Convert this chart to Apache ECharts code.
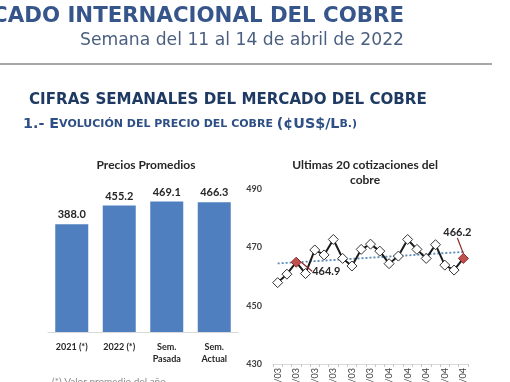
<!DOCTYPE html>
<html><head><meta charset="utf-8">
<script src="https://cdn.jsdelivr.net/npm/echarts@6/dist/echarts.min.js"></script>
<style>html,body{margin:0;padding:0;background:#fff}#c{width:510px;height:382px}</style>
</head><body><div id="c"></div>
<script>
var barCategories = ['2021 (*)', '2022 (*)', 'Sem.\nPasada', 'Sem.\nActual'];
var barValues = [388.0, 455.2, 469.1, 466.3];
var lineDates = ['17/03','18/03','21/03','22/03','23/03','24/03','25/03','28/03','29/03','30/03','31/03','01/04','04/04','05/04','06/04','07/04','08/04','11/04','12/04','13/04','14/04'];
var lineValues = [457.9, 460.8, 464.9, 461.0, 469.1, 467.4, 472.7, 466.2, 463.6, 469.3, 471.1, 468.7, 464.4, 467.0, 472.7, 469.3, 466.2, 470.9, 463.9, 462.2, 466.2];
var labelledIdx = [2, 20];
var yTicks = [430, 450, 470, 490];

// linear trend from data
var n = lineValues.length, sx=0, sy=0, sxy=0, sxx=0;
lineValues.forEach(function(v,i){sx+=i;sy+=v;sxy+=i*v;sxx+=i*i;});
var slope=(n*sxy-sx*sy)/(n*sxx-sx*sx), icpt=(sy-slope*sx)/n;
var trend = lineValues.map(function(v,i){return +(icpt+slope*i).toFixed(2);});

var lineData = lineValues.map(function(v,i){
  var d = {value:v};
  if (labelledIdx.indexOf(i) >= 0) {
    d.label = {show:true};
    d.itemStyle = {borderColor:'#8e2a2a', color:'#c05050'};
  }
  return d;
});

var chart = echarts.init(document.getElementById('c'));
var chartFont = 'Lato';
chart.setOption({
  animation:false,
  title:[
    {text:'Precios Promedios', left:141, top:154, textAlign:'center',
     textStyle:{fontFamily:chartFont, fontSize:12, fontWeight:'bold', color:'#262626'}},
    {text:'Ultimas 20 cotizaciones del\ncobre', left:360, top:153, textAlign:'center',
     textStyle:{fontFamily:chartFont, fontSize:12, fontWeight:'bold', color:'#262626', lineHeight:15}}
  ],
  graphic:[
    {type:'text', right:106, top:6, style:{text:'MERCADO INTERNACIONAL DEL COBRE', fontFamily:'DejaVu Sans', fontWeight:'bold', fontSize:21.3, fill:'#36558a', textAlign:'right'}},
    {type:'text', right:106, top:32, style:{text:'Semana del 11 al 14 de abril de 2022', fontFamily:'DejaVu Sans', fontSize:17.2, fill:'#4b5f80', textAlign:'right'}},
    {type:'line', shape:{x1:0, y1:64, x2:492, y2:64}, style:{stroke:'#8a8a8a', lineWidth:1.5}},
    {type:'text', left:29, top:93, style:{text:'CIFRAS SEMANALES DEL MERCADO DEL COBRE', fontFamily:'DejaVu Sans', fontWeight:'bold', fontSize:15.1, fill:'#1f3a62'}},
    {type:'text', left:23, top:117, style:{
      text:'{b|1.- E}{s|VOLUCIÓN DEL PRECIO DEL COBRE }{b|(¢US$/L}{s|B.)}',
      rich:{b:{fontFamily:'DejaVu Sans', fontWeight:'bold', fontSize:14.3, fill:'#2e4f86'},
            s:{fontFamily:'DejaVu Sans', fontWeight:'bold', fontSize:11, fill:'#2e4f86'}}}},
    {type:'text', left:52, top:377, style:{text:'(*) Valor promedio del año', fontFamily:chartFont, fontSize:10, fill:'#8c8c8c'}}
  ],
  grid:[
    {left:48, right:272, top:193, bottom:50, outerBoundsMode:'none', containLabel:false},
    {left:273, right:42, top:189, bottom:18, outerBoundsMode:'none', containLabel:false}
  ],
  xAxis:[
    {gridIndex:0, type:'category', data:barCategories,
     axisLine:{lineStyle:{color:'#d9d9d9'}}, axisTick:{show:false},
     axisLabel:{fontFamily:chartFont, fontSize:9, fontWeight:'bold', color:'#262626', margin:9, lineHeight:12, interval:0}},
    {gridIndex:1, type:'category', data:lineDates, boundaryGap:true,
     axisLine:{lineStyle:{color:'#d9d9d9'}}, axisTick:{show:true, interval:0, length:3, lineStyle:{color:'#c8c8c8'}},
     axisLabel:{fontFamily:chartFont, fontSize:9, color:'#404040', rotate:90, interval:1, margin:4}}
  ],
  yAxis:[
    {gridIndex:0, type:'value', min:0, max:500, show:false},
    {gridIndex:1, type:'value', min:yTicks[0], max:yTicks[yTicks.length-1], interval:20,
     axisLine:{show:false}, axisTick:{show:false}, splitLine:{show:false},
     axisLabel:{fontFamily:chartFont, fontSize:9, fontWeight:'bold', color:'#404040', margin:11}}
  ],
  series:[
    {type:'bar', xAxisIndex:0, yAxisIndex:0, data:barValues, barWidth:33,
     itemStyle:{color:'#4f7fbf'},
     label:{show:true, position:'top', distance:4, fontFamily:chartFont, fontSize:11, fontWeight:'bold', color:'#262626',
       formatter:function(p){return p.value.toFixed(1);}}},
    {type:'line', xAxisIndex:1, yAxisIndex:1, data:trend, symbol:'none', silent:true,
     lineStyle:{color:'#5a8ab8', width:1.8, type:[2,2]}, z:1},
    {type:'line', xAxisIndex:1, yAxisIndex:1, data:lineData, symbol:'diamond', symbolSize:10, showAllSymbol:true,
     lineStyle:{color:'#1a1a1a', width:2}, itemStyle:{color:'#ffffff', borderColor:'#333', borderWidth:1},
     label:{show:false, fontFamily:chartFont, fontSize:11, fontWeight:'bold', color:'#262626',
       formatter:function(p){return p.value.toFixed(1);}},
     labelLine:{show:true, lineStyle:{color:'#8e2a2a', width:1.2}},
     labelLayout:function(p){
       if (p.dataIndex===2) return {dx:30, dy:25};
       if (p.dataIndex===20) return {dx:-6, dy:-10};
       return {};
     }, z:3}
  ]
});
</script></body></html>
